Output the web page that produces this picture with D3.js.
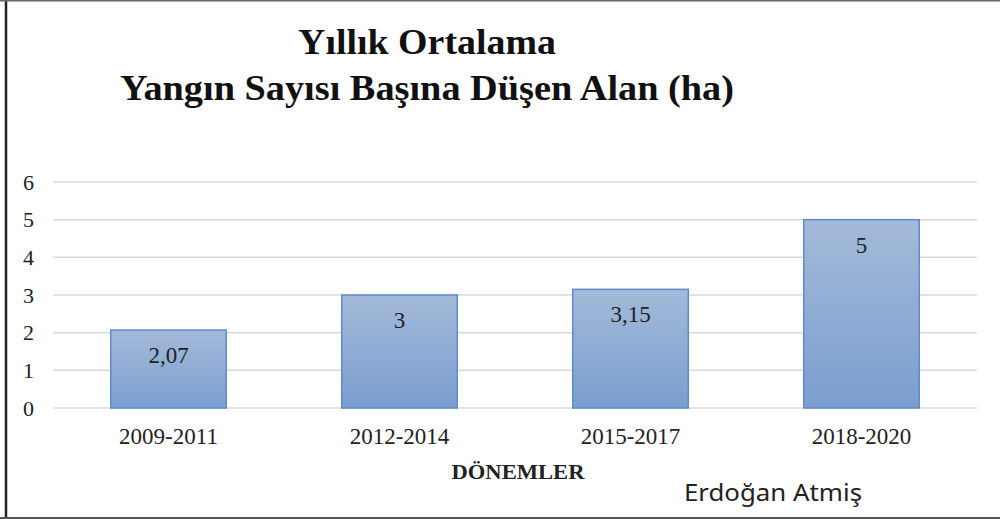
<!DOCTYPE html>
<html>
<head>
<meta charset="utf-8">
<script src="https://cdn.jsdelivr.net/npm/d3@7"></script>
<style>
  body { margin: 0; background: #fff; }
  svg { display: block; }
</style>
</head>
<body>
<div id="chart"></div>
<script>
var periods = ["2009-2011", "2012-2014", "2015-2017", "2018-2020"];
var values = [2.07, 3, 3.15, 5];
var valueLabels = ["2,07", "3", "3,15", "5"];
var yTicks = [0, 1, 2, 3, 4, 5, 6];
var titleLines = ["Yıllık Ortalama", "Yangın  Sayısı Başına Düşen Alan  (ha)"];

var W = 1000, H = 519;
var serif = "Liberation Serif, serif";
var margin = {top: 182, right: 23, bottom: 111, left: 53},
    width = W - margin.left - margin.right,
    height = H - margin.top - margin.bottom;

var root = d3.select("#chart")
    .append("svg")
    .attr("width", W)
    .attr("height", H);

// frame (left / top / bottom edges show)
root.append("line").attr("x1", 6).attr("x2", 6).attr("y1", 0).attr("y2", H)
    .attr("stroke", "#222").attr("stroke-width", 2.5);
root.append("line").attr("x1", 0).attr("x2", W).attr("y1", 0.75).attr("y2", 0.75)
    .attr("stroke", "#666").attr("stroke-width", 1.5);
root.append("line").attr("x1", 0).attr("x2", W).attr("y1", 518).attr("y2", 518)
    .attr("stroke", "#555").attr("stroke-width", 2);

var grad = root.append("defs").append("linearGradient")
    .attr("id", "barGrad")
    .attr("x1", 0).attr("y1", 0).attr("x2", 0).attr("y2", 1);
grad.append("stop").attr("offset", "0%").attr("stop-color", "#a3bad9");
grad.append("stop").attr("offset", "100%").attr("stop-color", "#7b9ecf");

// title
root.selectAll("text.title")
    .data(titleLines)
    .enter()
    .append("text")
    .attr("class", "title")
    .attr("x", 427)
    .attr("y", function (d, i) { return 54 + i * 46; })
    .attr("text-anchor", "middle")
    .attr("textLength", function (d, i) { return i === 0 ? 258 : 614; })
    .attr("lengthAdjust", "spacingAndGlyphs")
    .attr("font-family", serif)
    .attr("font-weight", "bold")
    .attr("font-size", 36)
    .attr("fill", "#111")
    .text(function (d) { return d; });

var svg = root.append("g")
    .attr("transform", "translate(" + margin.left + "," + margin.top + ")");

var x = d3.scaleBand()
    .range([0, width])
    .domain(periods)
    .paddingInner(0.5)
    .paddingOuter(0.25);

var y = d3.scaleLinear()
    .domain([0, 6])
    .range([height, 0]);

// gridlines
svg.selectAll("line.grid")
    .data(yTicks)
    .enter()
    .append("line")
    .attr("class", "grid")
    .attr("x1", 0)
    .attr("x2", width)
    .attr("y1", function (d) { return y(d); })
    .attr("y2", function (d) { return y(d); })
    .attr("stroke", "#d9d9d9")
    .attr("stroke-width", 1.5);

// y axis
var yAxis = svg.append("g")
    .call(d3.axisLeft(y).tickValues(yTicks).tickSize(0).tickPadding(19).tickFormat(d3.format("d")))
    .attr("font-family", serif)
    .attr("font-size", 22);
yAxis.select(".domain").remove();
yAxis.selectAll("text").attr("fill", "#222");

// x axis
var xAxis = svg.append("g")
    .attr("transform", "translate(0," + height + ")")
    .call(d3.axisBottom(x).tickSize(0).tickPadding(20))
    .attr("font-family", serif)
    .attr("font-size", 23);
xAxis.select(".domain").remove();
xAxis.selectAll("text").attr("fill", "#222");

// bars
svg.selectAll("rect.bar")
    .data(values)
    .enter()
    .append("rect")
    .attr("class", "bar")
    .attr("x", function (d, i) { return x(periods[i]); })
    .attr("y", function (d) { return y(d); })
    .attr("width", x.bandwidth())
    .attr("height", function (d) { return height - y(d); })
    .attr("fill", "url(#barGrad)")
    .attr("stroke", "#5f8cc8")
    .attr("stroke-width", 1.5);

// value labels
svg.selectAll("text.val")
    .data(values)
    .enter()
    .append("text")
    .attr("class", "val")
    .attr("x", function (d, i) { return x(periods[i]) + x.bandwidth() / 2; })
    .attr("y", function (d) { return y(d) + 33; })
    .attr("text-anchor", "middle")
    .attr("font-family", serif)
    .attr("font-size", 23)
    .attr("fill", "#222")
    .text(function (d, i) { return valueLabels[i]; });

// axis title
root.append("text")
    .attr("x", 518)
    .attr("y", 479)
    .attr("text-anchor", "middle")
    .attr("textLength", 133)
    .attr("lengthAdjust", "spacingAndGlyphs")
    .attr("font-family", serif)
    .attr("font-weight", "bold")
    .attr("font-size", 21)
    .attr("fill", "#222")
    .text("DÖNEMLER");

// author
root.append("text")
    .attr("x", 684)
    .attr("y", 501)
    .attr("textLength", 178)
    .attr("lengthAdjust", "spacingAndGlyphs")
    .attr("font-family", "Noto Sans, sans-serif")
    .attr("font-size", 23)
    .attr("fill", "#222")
    .text("Erdoğan Atmiş");
</script>
</body>
</html>
